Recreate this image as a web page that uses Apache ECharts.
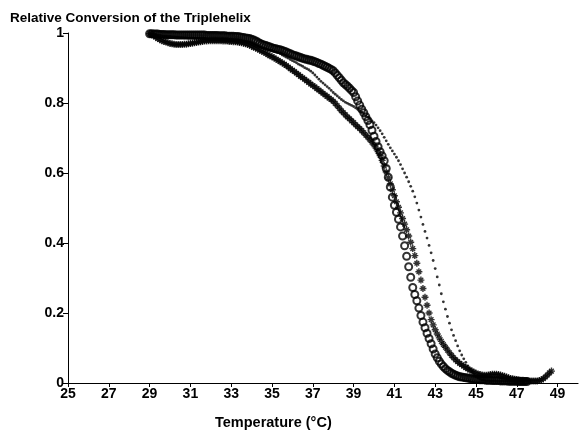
<!DOCTYPE html>
<html>
<head>
<meta charset="utf-8">
<title>Relative Conversion of the Triplehelix</title>
<script src="https://cdn.jsdelivr.net/npm/echarts@6/dist/echarts.min.js"></script>
<style>
  html, body { margin: 0; padding: 0; background: #fff; }
  #chart { width: 584px; height: 430px; }
</style>
</head>
<body>
<div id="chart"></div>
<script>
// temperature (°C), one reading every 0.1 degree
const temps = [
  29.0,29.1,29.2,29.3,29.4,29.5,29.6,29.7,29.8,29.9,
  30.0,30.1,30.2,30.3,30.4,30.5,30.6,30.7,30.8,30.9,
  31.0,31.1,31.2,31.3,31.4,31.5,31.6,31.7,31.8,31.9,
  32.0,32.1,32.2,32.3,32.4,32.5,32.6,32.7,32.8,32.9,
  33.0,33.1,33.2,33.3,33.4,33.5,33.6,33.7,33.8,33.9,
  34.0,34.1,34.2,34.3,34.4,34.5,34.6,34.7,34.8,34.9,
  35.0,35.1,35.2,35.3,35.4,35.5,35.6,35.7,35.8,35.9,
  36.0,36.1,36.2,36.3,36.4,36.5,36.6,36.7,36.8,36.9,
  37.0,37.1,37.2,37.3,37.4,37.5,37.6,37.7,37.8,37.9,
  38.0,38.1,38.2,38.3,38.4,38.5,38.6,38.7,38.8,38.9,
  39.0,39.1,39.2,39.3,39.4,39.5,39.6,39.7,39.8,39.9,
  40.0,40.1,40.2,40.3,40.4,40.5,40.6,40.7,40.8,40.9,
  41.0,41.1,41.2,41.3,41.4,41.5,41.6,41.7,41.8,41.9,
  42.0,42.1,42.2,42.3,42.4,42.5,42.6,42.7,42.8,42.9,
  43.0,43.1,43.2,43.3,43.4,43.5,43.6,43.7,43.8,43.9,
  44.0,44.1,44.2,44.3,44.4,44.5,44.6,44.7,44.8,44.9,
  45.0,45.1,45.2,45.3,45.4,45.5,45.6,45.7,45.8,45.9,
  46.0,46.1,46.2,46.3,46.4,46.5,46.6,46.7,46.8,46.9,
  47.0,47.1,47.2,47.3,47.4,47.5,47.6,47.7,47.8,47.9,
  48.0,48.1,48.2,48.3,48.4,48.5,48.6,48.7
];

// open circles
const circleVals = [
  0.998,0.998,0.997,0.997,0.997,0.996,0.996,0.996,0.995,0.995,
  0.995,0.995,0.995,0.994,0.994,0.994,0.994,0.994,0.994,0.994,
  0.994,0.994,0.994,0.994,0.994,0.994,0.994,0.994,0.993,0.993,
  0.993,0.993,0.993,0.993,0.992,0.992,0.992,0.992,0.991,0.991,
  0.991,0.991,0.990,0.990,0.989,0.988,0.987,0.986,0.985,0.984,
  0.982,0.980,0.977,0.974,0.971,0.968,0.966,0.964,0.962,0.960,
  0.958,0.956,0.955,0.953,0.952,0.950,0.948,0.946,0.943,0.941,
  0.938,0.936,0.934,0.932,0.930,0.928,0.926,0.925,0.923,0.922,
  0.920,0.918,0.916,0.913,0.911,0.908,0.905,0.902,0.899,0.896,
  0.892,0.886,0.879,0.872,0.865,0.858,0.853,0.848,0.842,0.836,
  0.830,0.818,0.806,0.794,0.782,0.772,0.761,0.750,0.738,0.722,
  0.705,0.690,0.675,0.661,0.649,0.635,0.613,0.588,0.560,0.531,
  0.508,0.488,0.468,0.446,0.420,0.392,0.362,0.332,0.302,0.273,
  0.253,0.235,0.214,0.193,0.174,0.158,0.142,0.127,0.112,0.097,
  0.083,0.072,0.062,0.054,0.047,0.041,0.036,0.032,0.028,0.025,
  0.022,0.020,0.018,0.017,0.016,0.015,0.014,0.013,0.012,0.011,
  0.010,0.010,0.009,0.009,0.009,0.008,0.008,0.008,0.007,0.007,
  0.007,0.007,0.006,0.006,0.006,0.006,0.005,0.005,0.005,0.005,
  0.005,0.004,0.004,0.004,0.004,0.004,null,null,null,null,
  null,null,null,null,null,null,null,null
];

// asterisks
const starVals = [
  0.998,0.995,0.992,0.988,0.984,0.981,0.978,0.976,0.974,0.972,
  0.970,0.969,0.968,0.967,0.967,0.967,0.967,0.968,0.968,0.969,
  0.970,0.971,0.972,0.973,0.974,0.975,0.976,0.977,0.977,0.978,
  0.978,0.978,0.978,0.978,0.978,0.978,0.977,0.977,0.977,0.976,
  0.976,0.975,0.975,0.974,0.973,0.972,0.971,0.969,0.967,0.965,
  0.962,0.959,0.957,0.954,0.951,0.948,0.945,0.942,0.938,0.935,
  0.932,0.929,0.925,0.922,0.918,0.915,0.911,0.907,0.903,0.898,
  0.894,0.890,0.885,0.881,0.876,0.872,0.868,0.863,0.859,0.854,
  0.850,0.846,0.841,0.837,0.832,0.828,0.823,0.819,0.814,0.810,
  0.805,0.799,0.792,0.785,0.778,0.772,0.766,0.760,0.755,0.749,
  0.744,0.738,0.732,0.727,0.721,0.715,0.708,0.702,0.695,0.688,
  0.680,0.671,0.661,0.650,0.636,0.620,0.603,0.586,0.569,0.552,
  0.535,0.518,0.502,0.486,0.470,0.454,0.438,0.420,0.402,0.384,
  0.364,0.342,0.318,0.294,0.270,0.245,0.222,0.200,0.181,0.166,
  0.152,0.140,0.129,0.119,0.110,0.102,0.094,0.086,0.079,0.072,
  0.066,0.061,0.056,0.052,0.048,0.044,0.040,0.037,0.034,0.031,
  0.028,0.026,0.024,0.023,0.022,0.022,0.023,0.024,0.025,0.025,
  0.025,0.024,0.023,0.021,0.019,0.017,0.015,0.013,0.012,0.011,
  0.010,0.009,0.008,0.008,0.007,0.007,0.006,0.006,0.006,0.006,
  0.006,0.007,0.009,0.012,0.017,0.023,0.029,0.034
];

// small dots (dense enough at the top to read as a thin line)
const dotVals = [
  0.998,0.997,0.996,0.995,0.994,0.993,0.992,0.991,0.991,0.990,
  0.990,0.989,0.989,0.988,0.988,0.987,0.987,0.986,0.986,0.985,
  0.985,0.985,0.984,0.984,0.984,0.983,0.983,0.983,0.982,0.982,
  0.982,0.982,0.981,0.981,0.981,0.980,0.980,0.980,0.979,0.979,
  0.978,0.978,0.977,0.977,0.976,0.975,0.974,0.973,0.972,0.970,
  0.968,0.966,0.964,0.962,0.960,0.958,0.956,0.954,0.952,0.951,
  0.950,0.948,0.946,0.944,0.941,0.937,0.934,0.931,0.928,0.924,
  0.921,0.918,0.915,0.911,0.908,0.905,0.901,0.898,0.895,0.891,
  0.886,0.880,0.874,0.868,0.862,0.857,0.852,0.847,0.842,0.836,
  0.830,0.825,0.820,0.815,0.810,0.806,0.802,0.799,0.796,0.793,
  0.790,0.786,0.782,0.778,0.774,0.769,0.764,0.759,0.754,0.749,
  0.744,0.737,0.729,0.721,0.712,0.702,0.692,0.682,0.672,0.663,
  0.654,0.645,0.635,0.624,0.612,0.600,0.588,0.575,0.562,0.548,
  0.532,0.514,0.494,0.474,0.453,0.433,0.414,0.393,0.372,0.350,
  0.327,0.303,0.280,0.255,0.232,0.211,0.190,0.171,0.152,0.136,
  0.121,0.106,0.092,0.080,0.069,0.059,0.049,0.040,0.032,0.024,
  0.018,0.014,0.011,0.009,0.008,0.007,0.007,0.006,0.006,0.006,
  0.006,0.005,0.005,0.005,0.005,0.005,0.004,0.004,0.004,0.004,
  0.004,null,null,null,null,null,null,null,null,null,
  null,null,null,null,null,null,null,null
];

const xTicks = [25, 27, 29, 31, 33, 35, 37, 39, 41, 43, 45, 47, 49];

const FONT = '"Liberation Sans", Arial, Helvetica, sans-serif';
const ASTERISK = 'path://M4,0L6,0L6,10L4,10ZM0,4L10,4L10,6L0,6Z' +
  'M1,2.4L2.4,1L9,7.6L7.6,9ZM7.6,1L9,2.4L2.4,9L1,7.6Z';

function pairs(vals) {
  const out = [];
  for (let i = 0; i < temps.length; i++) {
    if (vals[i] !== null) out.push([temps[i], vals[i]]);
  }
  return out;
}

const chart = echarts.init(document.getElementById('chart'), null, { renderer: 'canvas' });

chart.setOption({
  animation: false,
  backgroundColor: '#fff',
  title: [
    {
      text: 'Relative Conversion of the Triplehelix',
      left: 5, top: 6,
      textStyle: { fontFamily: FONT, fontSize: 13.5, fontWeight: 'bold', color: '#000' }
    },
    {
      text: 'Temperature (°C)',
      left: 210, top: 410,
      textStyle: { fontFamily: FONT, fontSize: 14.5, fontWeight: 'bold', color: '#000' }
    }
  ],
  grid: { left: 68, right: 6, top: 33, bottom: 47, containLabel: false },
  xAxis: {
    type: 'value',
    min: 25, max: 50, interval: 2,
    splitLine: { show: false },
    axisLine: { lineStyle: { color: '#000', width: 1.2 } },
    axisTick: { length: 4, lineStyle: { color: '#000' }, customValues: xTicks },
    axisLabel: {
      customValues: xTicks,
      color: '#000', fontFamily: FONT, fontSize: 14, fontWeight: 'bold', margin: 4
    }
  },
  yAxis: {
    type: 'value',
    min: 0, max: 1, interval: 0.2,
    splitLine: { show: false },
    axisLine: { show: true, lineStyle: { color: '#000', width: 1 } },
    axisTick: { show: true, length: 5, lineStyle: { color: '#000' } },
    axisLabel: { color: '#000', fontFamily: FONT, fontSize: 14, fontWeight: 'bold', margin: 4 }
  },
  series: [
    {
      name: 'circles',
      type: 'scatter',
      data: pairs(circleVals),
      symbol: 'circle',
      symbolSize: 7,
      itemStyle: { color: 'rgba(255,255,255,0)', borderColor: '#000', borderWidth: 2 }
    },
    {
      name: 'asterisks',
      type: 'scatter',
      data: pairs(starVals),
      symbol: ASTERISK,
      symbolSize: 7,
      itemStyle: { color: '#000' }
    },
    {
      name: 'dots',
      type: 'scatter',
      data: pairs(dotVals),
      symbol: 'circle',
      symbolSize: 2.8,
      itemStyle: { color: '#000' }
    }
  ]
});
</script>
</body>
</html>
